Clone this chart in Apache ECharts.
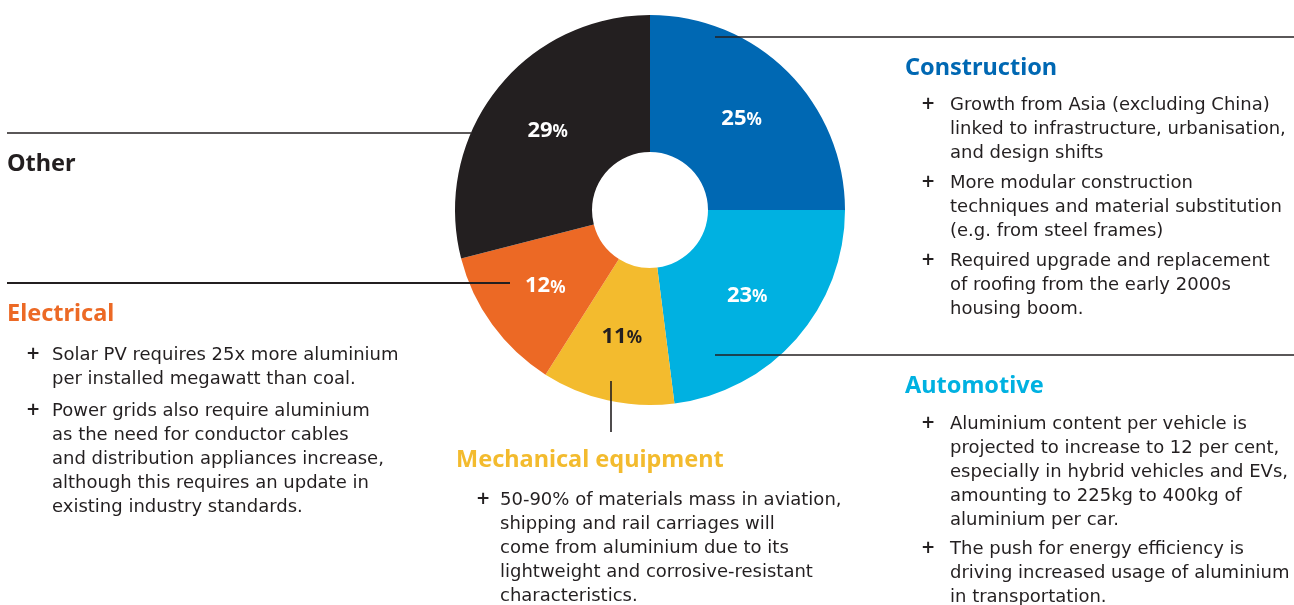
<!DOCTYPE html>
<html><head><meta charset="utf-8">
<script src="https://cdn.jsdelivr.net/npm/echarts@6/dist/echarts.min.js"></script>
<style>html,body{margin:0;padding:0;background:#fff}#c{width:1294px;height:605px}</style>
</head><body><div id="c"></div>
<script>
const categories = ['Construction', 'Automotive', 'Mechanical equipment', 'Electrical', 'Other'];
const shares = [25, 23, 11, 12, 29];
const colors = ['#0068b3', '#00b1e1', '#f3bb2e', '#ec6925', '#231f20'];
const labelColors = ['#fff', '#fff', '#231f20', '#fff', '#fff'];

const notesConstruction = [
  ['Growth from Asia (excluding China)', 'linked to infrastructure, urbanisation,', 'and design shifts'],
  ['More modular construction', 'techniques and material substitution', '(e.g. from steel frames)'],
  ['Required upgrade and replacement', 'of roofing from the early 2000s', 'housing boom.']
];
const notesAutomotive = [
  ['Aluminium content per vehicle is', 'projected to increase to 12 per cent,', 'especially in hybrid vehicles and EVs,', 'amounting to 225kg to 400kg of', 'aluminium per car.'],
  ['The push for energy efficiency is', 'driving increased usage of aluminium', 'in transportation.']
];
const notesMechanical = [
  ['50-90% of materials mass in aviation,', 'shipping and rail carriages will', 'come from aluminium due to its', 'lightweight and corrosive-resistant', 'characteristics.']
];
const notesElectrical = [
  ['Solar PV requires 25x more aluminium', 'per installed megawatt than coal.'],
  ['Power grids also require aluminium', 'as the need for conductor cables', 'and distribution appliances increase,', 'although this requires an update in', 'existing industry standards.']
];

const HFONT = '"Noto Sans", sans-serif';
const BFONT = '"DejaVu Sans", sans-serif';
const TXT = '#231f20';
const LH = 24;

function heading(text, x, y, color) {
  return {type: 'text', left: x, top: y, style: {text: text, fill: color, fontFamily: HFONT, fontWeight: 'bold', fontSize: 23.5}};
}
function bullets(groups, plusX, textX, y0, gap) {
  const els = [];
  let y = y0;
  groups.forEach(g => {
    els.push({type: 'text', left: plusX, top: y + 3, style: {text: '+', fill: TXT, fontFamily: BFONT, fontWeight: 'bold', fontSize: 17}});
    els.push({type: 'text', left: textX, top: y, style: {text: g.join('\n'), fill: TXT, fontFamily: BFONT, fontSize: 18, lineHeight: LH}});
    y += g.length * LH + gap;
  });
  return els;
}
function line(x1, y1, x2, y2, w) {
  return {type: 'line', shape: {x1, y1, x2, y2}, style: {stroke: TXT, lineWidth: w || 1.6}, z: 10};
}

const graphics = [
  line(715, 37, 1294, 37),
  line(715, 355, 1294, 355),
  line(7, 133, 471, 133),
  line(7, 283, 510, 283, 2),
  line(611, 381, 611, 432),
  heading('Construction', 905, 56, colors[0]),
  heading('Automotive', 905, 374, colors[1]),
  heading('Other', 7, 152, TXT),
  heading('Electrical', 7, 302, colors[3]),
  heading('Mechanical equipment', 456, 448, colors[2]),
  ...bullets(notesConstruction, 921, 950, 93, 6),
  ...bullets(notesAutomotive, 921, 950, 412, 5),
  ...bullets(notesElectrical, 26, 52, 343, 8),
  ...bullets(notesMechanical, 476, 500, 488, 0)
];

const chart = echarts.init(document.getElementById('c'));
chart.setOption({
  animation: false,
  graphic: graphics,
  series: [{
    type: 'pie',
    center: [650, 210],
    radius: [58, 195],
    startAngle: 90,
    clockwise: true,
    silent: true,
    itemStyle: {borderWidth: 0},
    label: {
      show: true,
      position: 'inside',
      formatter: p => '{n|' + p.value + '}{p|%}',
      rich: {
        n: {fontFamily: HFONT, fontWeight: 'bold', fontSize: 22},
        p: {fontFamily: HFONT, fontWeight: 'bold', fontSize: 17, padding: [4, 0, 0, 0]}
      }
    },
    labelLine: {show: false},
    data: categories.map((c, i) => ({
      name: c, value: shares[i],
      itemStyle: {color: colors[i]},
      label: {color: labelColors[i]}
    }))
  }]
});
</script></body></html>
